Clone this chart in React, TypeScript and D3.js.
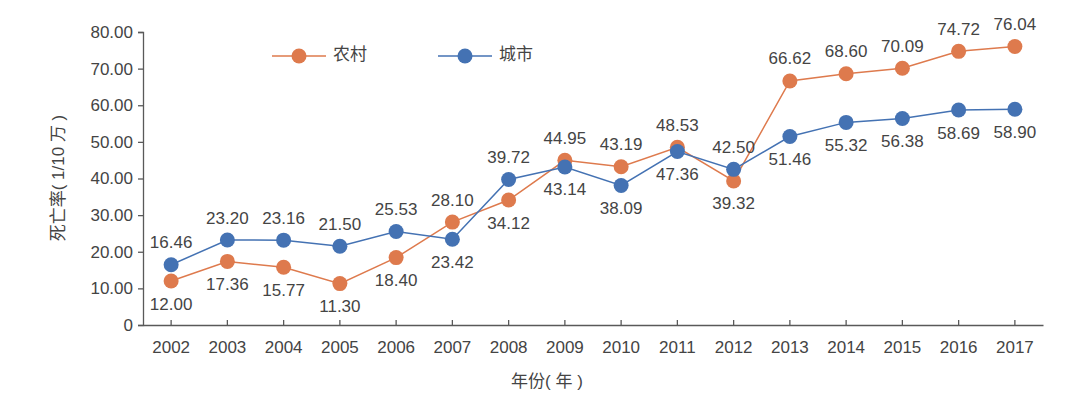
import React, { useEffect, useRef } from "react";
import * as d3 from "d3";

const years = ["2002", "2003", "2004", "2005", "2006", "2007", "2008", "2009", "2010", "2011", "2012", "2013", "2014", "2015", "2016", "2017"];
const rural = [12.0, 17.36, 15.77, 11.3, 18.4, 28.1, 34.12, 44.95, 43.19, 48.53, 39.32, 66.62, 68.6, 70.09, 74.72, 76.04];
const urban = [16.46, 23.2, 23.16, 21.5, 25.53, 23.42, 39.72, 43.14, 38.09, 47.36, 42.5, 51.46, 55.32, 56.38, 58.69, 58.9];
const seriesNames = ["农村", "城市"];
const yTicks = [0, 10, 20, 30, 40, 50, 60, 70, 80];

const W = 1080;
const H = 397;
const FONT = "'Liberation Sans', 'Noto Sans CJK SC', sans-serif";
const TEXT = "#444";
const AXIS = "#595959";
const colors = ["#DE7A4D", "#4472B3"];

export default function App() {
  const ref = useRef<SVGSVGElement>(null);

  useEffect(() => {
    if (!ref.current) return;
    const svg = d3.select(ref.current);
    svg.selectAll("*").remove();

    const left = 143, right = 1043, top = 32, bottom = 325;

    const x = d3.scaleBand<string>().domain(years).range([left, right]);
    const cx = (d: string) => (x(d) ?? 0) + x.bandwidth() / 2;
    const y = d3.scaleLinear().domain([0, 80]).range([bottom, top]);

    // y axis
    const yAxis = svg
      .append("g")
      .attr("transform", `translate(${left},0)`)
      .call(
        d3
          .axisLeft(y)
          .tickValues(yTicks)
          .tickSize(5)
          .tickPadding(5)
          .tickFormat((d) => (+d === 0 ? "0" : d3.format(".2f")(+d)))
      );
    yAxis.select(".domain").attr("stroke", AXIS).attr("stroke-width", 1.3);
    yAxis.selectAll(".tick line").attr("stroke", AXIS).attr("stroke-width", 1.3);
    yAxis
      .selectAll(".tick text")
      .attr("fill", TEXT)
      .style("font-size", "17px")
      .style("font-family", FONT);

    // x axis
    const xAxis = svg
      .append("g")
      .attr("transform", `translate(0,${bottom})`)
      .call(d3.axisBottom(x).tickSize(-5).tickSizeOuter(0).tickPadding(16));
    xAxis.select(".domain").attr("stroke", AXIS).attr("stroke-width", 1.3);
    xAxis.selectAll(".tick line").attr("stroke", AXIS).attr("stroke-width", 1.3);
    xAxis
      .selectAll(".tick text")
      .attr("fill", TEXT)
      .style("font-size", "17px")
      .style("font-family", FONT);

    // axis titles
    svg
      .append("text")
      .attr("transform", `translate(60,178) rotate(-90)`)
      .attr("text-anchor", "middle")
      .attr("dominant-baseline", "middle")
      .attr("fill", TEXT)
      .style("font-size", "17px")
      .style("font-family", FONT)
      .text("死亡率( 1/10 万 )");
    svg
      .append("text")
      .attr("x", 547)
      .attr("y", 383)
      .attr("text-anchor", "middle")
      .attr("dominant-baseline", "middle")
      .attr("fill", TEXT)
      .style("font-size", "17px")
      .style("font-family", FONT)
      .text("年份( 年 )");

    const data = [rural, urban];
    const line = d3
      .line<number>()
      .x((_, i) => cx(years[i]))
      .y((d) => y(d));

    data.forEach((vals, s) => {
      svg
        .append("path")
        .datum(vals)
        .attr("fill", "none")
        .attr("stroke", colors[s])
        .attr("stroke-width", 1.5)
        .attr("d", line);
    });
    data.forEach((vals, s) => {
      svg
        .append("g")
        .selectAll("circle")
        .data(vals)
        .enter()
        .append("circle")
        .attr("cx", (_, i) => cx(years[i]))
        .attr("cy", (d) => y(d))
        .attr("r", 7.5)
        .attr("fill", colors[s]);
    });

    // data labels: higher point above, lower point below
    data.forEach((vals, s) => {
      const other = data[1 - s];
      svg
        .append("g")
        .selectAll("text")
        .data(vals)
        .enter()
        .append("text")
        .attr("x", (_, i) => cx(years[i]))
        .attr("y", (d, i) => (d >= other[i] ? y(d) - 21 : y(d) + 24))
        .attr("text-anchor", "middle")
        .attr("dominant-baseline", "middle")
        .attr("fill", TEXT)
        .style("font-size", "17px")
        .style("font-family", FONT)
        .text((d) => d3.format(".2f")(d));
    });

    // legend
    const legendX = [272, 438];
    seriesNames.forEach((name, s) => {
      const g = svg.append("g").attr("transform", `translate(${legendX[s]},56)`);
      g.append("line")
        .attr("x1", 0)
        .attr("x2", 54)
        .attr("stroke", colors[s])
        .attr("stroke-width", 1.5);
      g.append("circle").attr("cx", 27).attr("r", 7.5).attr("fill", colors[s]);
      g.append("text")
        .attr("x", 61)
        .attr("dominant-baseline", "middle")
        .attr("fill", TEXT)
        .style("font-size", "17px")
        .style("font-family", FONT)
        .text(name);
    });
  }, []);

  return (
    <svg
      ref={ref}
      width={W}
      height={H}
      style={{ position: "absolute", left: 0, top: 0, background: "#fff" }}
    />
  );
}
